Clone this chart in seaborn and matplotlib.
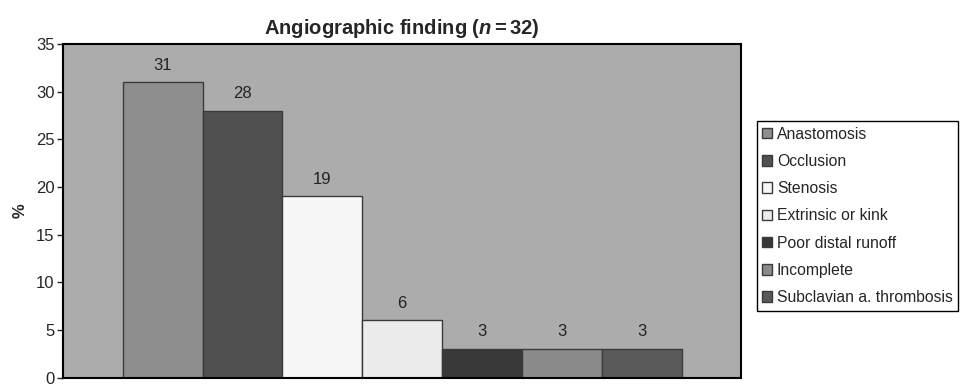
import matplotlib
matplotlib.use("Agg")
import matplotlib.pyplot as plt
import seaborn as sns
import pandas as pd

# values
findings = ['Anastomosis', 'Occlusion', 'Stenosis', 'Extrinsic or kink',
            'Poor distal runoff', 'Incomplete', 'Subclavian a. thrombosis']
percent = [31, 28, 19, 6, 3, 3, 3]
bar_colors = ['#8e8e8e', '#505050', '#f7f7f7', '#ececec',
              '#383838', '#8a8a8a', '#5a5a5a']

sns.set_style("ticks")
plt.rcParams['font.family'] = ['Liberation Sans', 'DejaVu Sans']
plt.rcParams['mathtext.fontset'] = 'custom'
plt.rcParams['mathtext.rm'] = 'Liberation Sans'
plt.rcParams['mathtext.it'] = 'Liberation Sans:italic'
plt.rcParams['mathtext.bf'] = 'Liberation Sans:bold'
plt.rcParams['mathtext.bfit'] = 'Liberation Sans:italic:bold'

df = pd.DataFrame({'finding': findings, 'pct': percent})

fig = plt.figure(figsize=(9.65, 3.86), dpi=100)
ax = fig.add_axes([0.0653, 0.022, 0.703, 0.864])
ax.set_facecolor('#acacac')

sns.barplot(data=df, x='finding', y='pct', hue='finding', order=findings,
            hue_order=findings, palette=bar_colors, dodge=False, width=1.0,
            edgecolor='#3a3a3a', linewidth=1.0, saturation=1, legend=True, ax=ax)

for i, v in enumerate(percent):
    ax.text(i, v + 1.0, str(v), ha='center', va='bottom', fontsize=12, color='#222222')

ax.set_xlim(-1.25, 7.25)
ax.set_ylim(0, 35)
ax.set_yticks(range(0, 36, 5))
ax.set_xticks([])
ax.set_xlabel('')
ax.set_ylabel('%', fontsize=12, fontweight='bold', labelpad=6)
ax.tick_params(axis='y', labelsize=12, length=4, width=1, direction='out', pad=2)
for s in ax.spines.values():
    s.set_visible(True)
    s.set_color('black')
    s.set_linewidth(1.5)

ax.set_title(r'Angiographic finding ($\mathbfit{n}$$\mathbf{=}$32)',
             fontsize=14.5, fontweight='bold', pad=7)

handles, labels = ax.get_legend_handles_labels()
ax.legend(handles, labels, loc='upper left', bbox_to_anchor=(0.784, 0.686),
          bbox_transform=fig.transFigure, fontsize=11.3, frameon=True,
          fancybox=False, edgecolor='black', facecolor='white', framealpha=1,
          handlelength=0.65, handleheight=0.65, handletextpad=0.3,
          labelspacing=0.78, borderpad=0.35, borderaxespad=0)

fig.savefig('out.png', dpi=100)
